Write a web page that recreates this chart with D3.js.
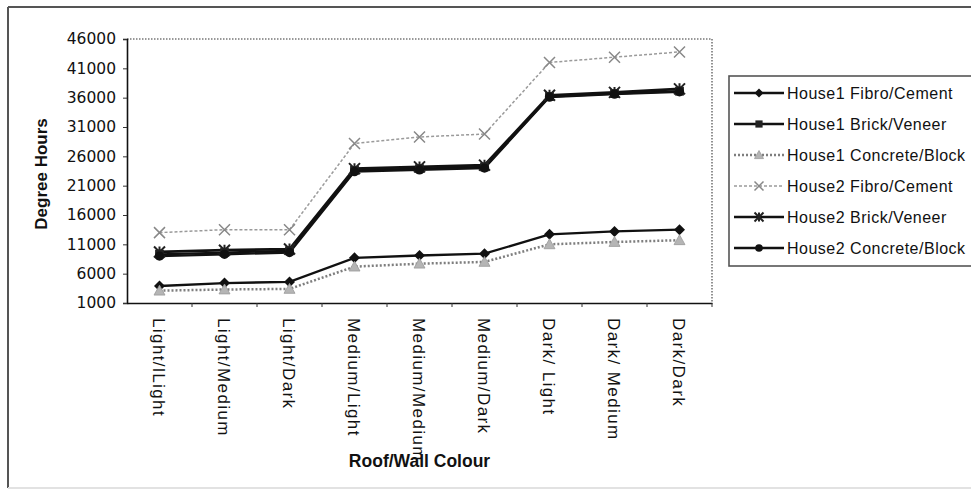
<!DOCTYPE html>
<html>
<head>
<meta charset="utf-8">
<script src="https://cdn.jsdelivr.net/npm/d3@7"></script>
<style>
  body { margin: 0; background: #fff; }
  svg { display: block; }
</style>
</head>
<body>
<script>
// categories on the x axis (roof / wall colour)
const categories = ["Light/lLight", "Light/Medium", "Light/Dark", "Medium/Light", "Medium/Medium",
                    "Medium/Dark", "Dark/ Light", "Dark/ Medium", "Dark/Dark"];

// degree hours per series
const house1Fibro    = [3900, 4400, 4600, 8700, 9100, 9400, 12700, 13200, 13500];
const house1Brick    = [9300, 9600, 9900, 23600, 23900, 24200, 36200, 36700, 37100];
const house1Concrete = [3100, 3300, 3400, 7200, 7700, 8000, 11000, 11400, 11700];
const house2Fibro    = [13000, 13500, 13500, 28200, 29300, 29800, 42000, 42900, 43800];
const house2Brick    = [9700, 10000, 10200, 23900, 24200, 24500, 36400, 36900, 37500];
const house2Concrete = [9000, 9300, 9600, 23400, 23700, 24000, 36100, 36600, 37000];

const seriesNames = ["House1 Fibro/Cement", "House1 Brick/Veneer", "House1 Concrete/Block",
                     "House2 Fibro/Cement", "House2 Brick/Veneer", "House2 Concrete/Block"];

const yTicks = [1000, 6000, 11000, 16000, 21000, 26000, 31000, 36000, 41000, 46000];

// line / marker styles
const styles = [
  { stroke: "#111", width: 2.3, dash: null, marker: "diamond", fill: "#111" },
  { stroke: "#111", width: 2.3, dash: null, marker: "square", fill: "#222" },
  { stroke: "#7e7e7e", width: 2.5, dash: "2,2", marker: "triangle", fill: "#b5b5b5" },
  { stroke: "#9a9a9a", width: 1.5, dash: "3,2", marker: "x", fill: "none" },
  { stroke: "#111", width: 2.7, dash: null, marker: "star", fill: "#222" },
  { stroke: "#111", width: 2.3, dash: null, marker: "circle", fill: "#111" }
];

const seriesValues = [house1Fibro, house1Brick, house1Concrete, house2Fibro, house2Brick, house2Concrete];
const series = seriesNames.map((name, i) => ({ name, values: seriesValues[i], style: styles[i] }));

const width = 971, height = 495;
const plot = { left: 127, right: 712, top: 39, bottom: 303 };

const svg = d3.select("body").append("svg")
  .attr("width", width)
  .attr("height", height);

// outer chart border
svg.append("line").attr("x1", 8).attr("x2", 971).attr("y1", 7).attr("y2", 7)
  .attr("stroke", "#555").attr("stroke-width", 2);
svg.append("line").attr("x1", 8).attr("x2", 8).attr("y1", 7).attr("y2", 488)
  .attr("stroke", "#555").attr("stroke-width", 2);
svg.append("line").attr("x1", 8).attr("x2", 971).attr("y1", 488).attr("y2", 488)
  .attr("stroke", "#e2e2e2").attr("stroke-width", 2);

const x = d3.scaleBand().domain(categories).range([plot.left, plot.right]);
const y = d3.scaleLinear().domain([1000, 46000]).range([plot.bottom, plot.top]);

// plot area border (dotted top and right)
svg.append("path")
  .attr("d", `M${plot.left},${y(46000)}H${plot.right}V${y(1000)}`)
  .attr("fill", "none")
  .attr("stroke", "#777")
  .attr("stroke-width", 1.6)
  .attr("stroke-dasharray", "1.5,1.5");

// y axis
const yAxis = svg.append("g")
  .attr("transform", `translate(${plot.left},0)`)
  .call(d3.axisLeft(y).tickValues(yTicks).tickSize(4).tickPadding(7).tickFormat(d3.format("d")));
yAxis.select(".domain").attr("stroke", "#111").attr("stroke-width", 1.6);
yAxis.selectAll(".tick line").attr("stroke", "#333");
yAxis.selectAll("text")
  .attr("font-family", "DejaVu Sans")
  .attr("font-size", 15.5)
  .attr("fill", "#111");

// x axis (labels centred on categories, ticks on band edges)
const xAxis = svg.append("g")
  .attr("transform", `translate(0,${plot.bottom})`)
  .call(d3.axisBottom(x).tickSize(0).tickPadding(0));
xAxis.select(".domain").attr("stroke", "#111").attr("stroke-width", 1.6);
xAxis.selectAll("text")
  .attr("transform", "rotate(90)")
  .attr("x", 15)
  .attr("y", 0)
  .attr("dy", "0.36em")
  .style("text-anchor", "start")
  .attr("font-family", "Liberation Sans")
  .attr("font-size", 17)
  .attr("letter-spacing", 1.4)
  .attr("fill", "#111");
xAxis.selectAll(".edge")
  .data(categories)
  .join("line")
  .attr("class", "edge")
  .attr("x1", d => x(d) + x.bandwidth())
  .attr("x2", d => x(d) + x.bandwidth())
  .attr("y1", 0)
  .attr("y2", 4)
  .attr("stroke", "#333");

// axis titles
svg.append("text")
  .attr("transform", `translate(47,${(plot.top + plot.bottom) / 2 + 3}) rotate(-90)`)
  .attr("text-anchor", "middle")
  .attr("font-family", "Liberation Sans")
  .attr("font-weight", "bold")
  .attr("font-size", 17)
  .attr("fill", "#111")
  .text("Degree Hours");

svg.append("text")
  .attr("x", (plot.left + plot.right) / 2)
  .attr("y", 467)
  .attr("text-anchor", "middle")
  .attr("font-family", "Liberation Sans")
  .attr("font-weight", "bold")
  .attr("font-size", 17.5)
  .attr("fill", "#111")
  .text("Roof/Wall Colour");

// marker drawing
function drawMarker(sel, style, size) {
  const s = size;
  if (style.marker === "diamond") {
    sel.append("path").attr("d", `M0,${-s}L${s},0L0,${s}L${-s},0Z`).attr("fill", style.fill);
  } else if (style.marker === "square") {
    sel.append("rect").attr("x", -s * 0.8).attr("y", -s * 0.8).attr("width", s * 1.6).attr("height", s * 1.6)
      .attr("fill", style.fill);
  } else if (style.marker === "triangle") {
    sel.append("path").attr("d", `M0,${-s}L${s},${s * 0.8}L${-s},${s * 0.8}Z`)
      .attr("fill", style.fill).attr("stroke", "#999").attr("stroke-width", 0.8);
  } else if (style.marker === "x") {
    sel.append("path").attr("d", `M${-s},${-s}L${s},${s}M${-s},${s}L${s},${-s}`)
      .attr("stroke", "#888").attr("stroke-width", 1.5);
  } else if (style.marker === "star") {
    sel.append("path").attr("d", `M${-s},${-s}L${s},${s}M${-s},${s}L${s},${-s}M0,${-s}V${s}`)
      .attr("stroke", "#222").attr("stroke-width", 2);
  } else if (style.marker === "circle") {
    sel.append("circle").attr("r", s * 0.85).attr("fill", style.fill);
  }
}

const line = d3.line()
  .x((d, i) => x(categories[i]) + x.bandwidth() / 2)
  .y(d => y(d));

const lines = svg.append("g");
series.forEach(s => {
  lines.append("path")
    .datum(s.values)
    .attr("fill", "none")
    .attr("stroke", s.style.stroke)
    .attr("stroke-width", s.style.width)
    .attr("stroke-dasharray", s.style.dash)
    .attr("d", line);
});
series.forEach(s => {
  s.values.forEach((v, i) => {
    const g = lines.append("g")
      .attr("transform", `translate(${x(categories[i]) + x.bandwidth() / 2},${y(v)})`);
    drawMarker(g, s.style, 5.5);
  });
});

// legend
const legend = svg.append("g").attr("transform", "translate(729,76)");
legend.append("rect")
  .attr("x", 0).attr("y", 0)
  .attr("width", 260).attr("height", 190)
  .attr("fill", "#fff")
  .attr("stroke", "#555")
  .attr("stroke-width", 1.6);

const rows = legend.selectAll(".row")
  .data(series)
  .join("g")
  .attr("class", "row")
  .attr("transform", (d, i) => `translate(0,${17 + i * 31})`);
rows.append("line")
  .attr("x1", 5).attr("x2", 55)
  .attr("stroke", d => d.style.stroke)
  .attr("stroke-width", d => d.style.width)
  .attr("stroke-dasharray", d => d.style.dash);
rows.each(function(d) {
  const g = d3.select(this).append("g").attr("transform", "translate(30,0)");
  drawMarker(g, d.style, 4.5);
});
rows.append("text")
  .attr("x", 58)
  .attr("dy", "0.36em")
  .attr("font-family", "Liberation Sans")
  .attr("font-size", 16)
  .attr("letter-spacing", 0.5)
  .attr("fill", "#111")
  .text(d => d.name);
</script>
</body>
</html>
